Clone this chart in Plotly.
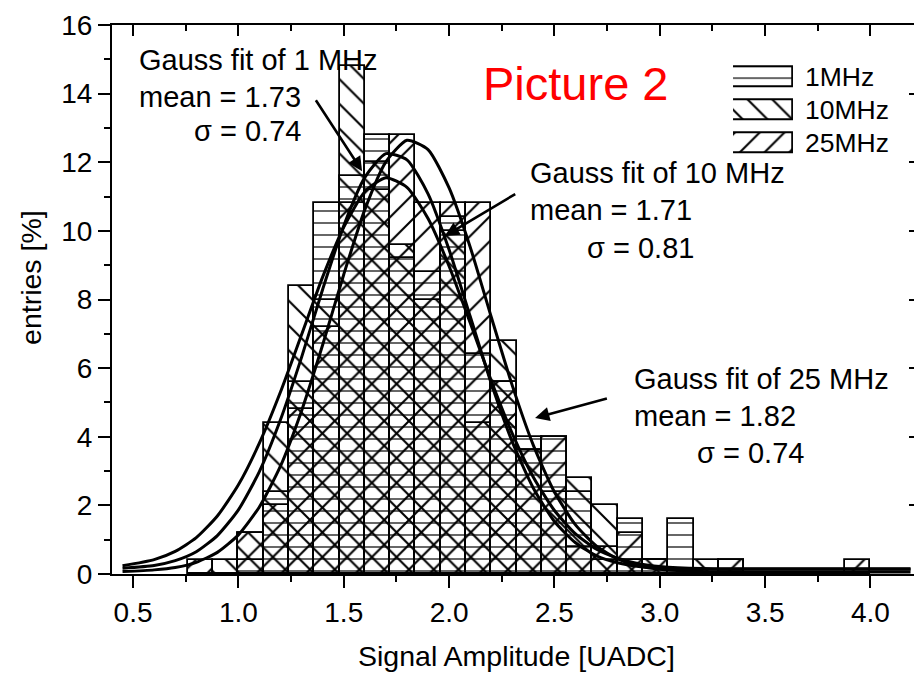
import plotly.graph_objects as go

# ---------------- data ----------------
bin_centers = [0.82, 0.94, 1.06, 1.18, 1.30, 1.42, 1.54, 1.66, 1.78, 1.90, 2.02, 2.14, 2.26, 2.38,
               2.50, 2.62, 2.74, 2.86, 2.98, 3.10, 3.22, 3.34, 3.46, 3.58, 3.70, 3.82, 3.94]
bin_width = 0.12
entries_1mhz = [0, 0, 0.4, 2.4, 5.6, 10.8, 11.6, 12.8, 9.2, 8.8, 10.4, 6.4, 5.6, 4.0,
                4.0, 2.4, 0.4, 1.6, 0.4, 1.6, 0, 0.4, 0, 0, 0, 0, 0]
entries_10mhz = [0, 0.4, 1.2, 4.4, 8.4, 8.0, 14.8, 12.0, 9.6, 8.0, 10.0, 4.4, 6.8, 3.6,
                 2.4, 2.8, 2.0, 0.4, 0.4, 0, 0.4, 0, 0, 0, 0, 0, 0]
entries_25mhz = [0.4, 0, 1.2, 2.0, 4.8, 7.2, 10.8, 11.2, 12.8, 10.8, 10.8, 10.8, 5.6, 3.6,
                 4.0, 0.8, 0.8, 1.2, 0.4, 0, 0, 0.4, 0, 0, 0, 0, 0.4]

fit_x = [0.45, 0.6, 0.7, 0.8, 0.9, 1.0, 1.1, 1.2, 1.3, 1.4, 1.5, 1.6, 1.7, 1.8, 1.9, 2.0,
         2.1, 2.2, 2.3, 2.4, 2.5, 2.6, 2.7, 2.8, 2.9, 3.0, 3.2, 3.5, 3.8, 4.19]
fit_1mhz = [0.17, 0.25, 0.39, 0.65, 1.12, 1.87, 2.99, 4.50, 6.32, 8.30, 10.15, 11.56, 12.25, 12.07,
            11.08, 9.45, 7.51, 5.56, 3.85, 2.50, 1.53, 0.91, 0.53, 0.33, 0.22, 0.17, 0.14, 0.14, 0.14, 0.14]
fit_10mhz = [0.24, 0.42, 0.66, 1.06, 1.69, 2.60, 3.82, 5.31, 6.98, 8.66, 10.11, 11.14, 11.55, 11.27,
             10.36, 8.97, 7.32, 5.63, 4.09, 2.82, 1.85, 1.17, 0.72, 0.46, 0.30, 0.22, 0.16, 0.15, 0.15, 0.15]
fit_25mhz = [0.07, 0.12, 0.19, 0.34, 0.63, 1.14, 1.96, 3.15, 4.76, 6.68, 8.73, 10.62, 12.01, 12.64,
             12.37, 11.25, 9.53, 7.49, 5.49, 3.75, 2.39, 1.43, 0.81, 0.44, 0.24, 0.14, 0.07, 0.06, 0.06, 0.06]

series_names = ["1MHz", "10MHz", "25MHz"]
fit_titles = ["Gauss fit of 1 MHz", "Gauss fit of 10 MHz", "Gauss fit of 25 MHz"]
fit_means = ["mean = 1.73", "mean = 1.71", "mean = 1.82"]
fit_sigmas = ["σ = 0.74", "σ = 0.81", "σ = 0.74"]
x_ticks = [0.5, 1.0, 1.5, 2.0, 2.5, 3.0, 3.5, 4.0]
y_ticks = [0, 2, 4, 6, 8, 10, 12, 14, 16]

# ---------------- styles ----------------
FONT = "Liberation Sans, Arial, sans-serif"
hatch = ["-", "\\", "/"]
hatch_size = [12, 17.5, 17.5]
hatch_solid = [0.1, 0.12, 0.12]

fig = go.Figure()

hist_values = [entries_1mhz, entries_10mhz, entries_25mhz]
for name, vals, sh, sz, so in zip(series_names, hist_values, hatch, hatch_size, hatch_solid):
    fig.add_trace(go.Bar(
        x=bin_centers, y=vals, width=bin_width, name=name, showlegend=False,
        marker=dict(color="black", line=dict(color="black", width=1.8),
                    pattern=dict(shape=sh, size=sz, solidity=so, fgcolor="black",
                                 bgcolor="rgba(0,0,0,0)", fillmode="replace")),
    ))

for fy in [fit_10mhz, fit_1mhz, fit_25mhz]:
    fig.add_trace(go.Scatter(x=fit_x, y=fy, mode="lines", showlegend=False,
                             line=dict(color="black", width=3, shape="spline", smoothing=0.6)))

# legend drawn as an inset of patterned bars
for i, (name, sh, sz, so) in enumerate(zip(series_names, hatch, hatch_size, hatch_solid)):
    fig.add_trace(go.Bar(
        x=[1], y=[i], base=0, orientation="h", width=0.6, xaxis="x2", yaxis="y2", showlegend=False,
        marker=dict(color="black", line=dict(color="black", width=1.8),
                    pattern=dict(shape=sh, size=sz, solidity=so, fgcolor="black",
                                 bgcolor="rgba(0,0,0,0)", fillmode="replace")),
    ))

# mirror axes for inside ticks on top / right
fig.add_trace(go.Scatter(x=[], y=[], xaxis="x3", yaxis="y3", showlegend=False))

XR = [0.4, 4.235]
YR = [0, 16]

annotations = []
blocks = [
    (0.519, 0.78, [14.98, 13.91, 12.90]),
    (2.374, 2.645, [11.68, 10.61, 9.51]),
    (2.868, 3.167, [5.67, 4.60, 3.53]),
]
for (xl, xs, ys), t, m, s in zip(blocks, fit_titles, fit_means, fit_sigmas):
    for txt, xx, yy in [(t, xl, ys[0]), (m, xl, ys[1]), (s, xs, ys[2])]:
        annotations.append(dict(x=xx, y=yy, xref="x", yref="y", text=txt, showarrow=False,
                                xanchor="left", yanchor="middle",
                                font=dict(size=29, color="black", family=FONT)))
arrows = [((1.587, 11.74), (1.363, 13.85)),
          ((1.980, 9.85), (2.321, 11.10)),
          ((2.408, 4.55), (2.756, 5.13))]
for (tx, ty), (ax, ay) in arrows:
    annotations.append(dict(x=tx, y=ty, ax=ax, ay=ay, xref="x", yref="y", axref="x", ayref="y",
                            text="", showarrow=True, arrowhead=2, arrowsize=1.1, arrowwidth=2.6,
                            arrowcolor="black"))
annotations.append(dict(x=2.602, y=14.29, xref="x", yref="y", text="Picture 2", showarrow=False,
                        xanchor="center", yanchor="middle",
                        font=dict(size=47, color="#ff0000", family=FONT)))
for i, name in enumerate(series_names):
    annotations.append(dict(x=0.855, y=i, xref="paper", yref="y2", text=name, showarrow=False,
                            xanchor="left", yanchor="middle",
                            font=dict(size=26.5, color="black", family=FONT)))
annotations.append(dict(x=0.5, y=-0.149, xref="paper", yref="paper", text="Signal Amplitude [UADC]",
                        showarrow=False, xanchor="center", yanchor="middle",
                        font=dict(size=28.5, color="black", family=FONT)))
annotations.append(dict(x=-0.101, y=0.54, xref="paper", yref="paper", text="entries [%]",
                        showarrow=False, textangle=-90, xanchor="center", yanchor="middle",
                        font=dict(size=28.5, color="black", family=FONT)))

# the page body has an 8 px margin, margins compensate for it
fig.update_layout(
    width=922, height=674,
    margin=dict(l=104, r=10, t=17, b=108, autoexpand=False),
    paper_bgcolor="white", plot_bgcolor="white",
    barmode="overlay", bargap=0,
    font=dict(family=FONT, size=28, color="black"),
    annotations=annotations,
    xaxis=dict(range=XR, tickvals=x_ticks, ticktext=[f"{v:.1f}" for v in x_ticks], automargin=False,
               ticklabeloverflow="allow",
               showgrid=False, zeroline=False, showline=True, linecolor="black", linewidth=2,
               mirror=True, ticks="outside", ticklen=12, tickwidth=2, tickcolor="black",
               minor=dict(dtick=0.25, tick0=0.5, ticks="outside", ticklen=6, tickwidth=2,
                          tickcolor="black", showgrid=False),
               tickfont=dict(size=28)),
    yaxis=dict(range=YR, tickvals=y_ticks, showgrid=False, zeroline=False, showline=True,
               automargin=False, ticklabeloverflow="allow",
               linecolor="black", linewidth=2, mirror=True, ticks="outside", ticklen=12,
               tickwidth=2, tickcolor="black",
               minor=dict(dtick=1, tick0=0, ticks="outside", ticklen=6, tickwidth=2,
                          tickcolor="black", showgrid=False),
               tickfont=dict(size=28)),
    xaxis3=dict(range=XR, overlaying="x", side="top", anchor="y3", showticklabels=False,
                automargin=False,
                tickvals=x_ticks, ticks="inside", ticklen=11, tickwidth=2, tickcolor="black",
                minor=dict(dtick=0.25, tick0=0.5, ticks="inside", ticklen=6, tickwidth=2,
                           tickcolor="black", showgrid=False),
                showgrid=False, zeroline=False, showline=False),
    yaxis3=dict(range=YR, overlaying="y", side="right", anchor="x3", showticklabels=False,
                automargin=False,
                tickvals=y_ticks, ticks="inside", ticklen=11, tickwidth=2, tickcolor="black",
                minor=dict(dtick=1, tick0=0, ticks="inside", ticklen=6, tickwidth=2,
                           tickcolor="black", showgrid=False),
                showgrid=False, zeroline=False, showline=False),
    xaxis2=dict(domain=[0.7686, 0.8428], range=[0, 1], anchor="y2", visible=False,
                fixedrange=True, automargin=False),
    yaxis2=dict(domain=[0.755, 0.936], range=[2.5, -0.5], anchor="x2", visible=False,
                fixedrange=True, automargin=False),
)

fig.write_html("out.html")
